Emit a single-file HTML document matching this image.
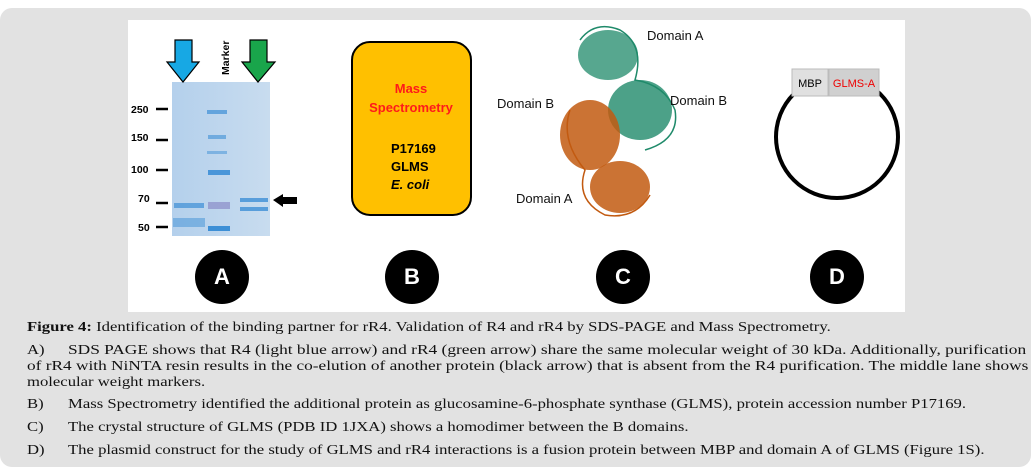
<!DOCTYPE html>
<html><head><meta charset="utf-8"><style>
body{margin:0;width:1035px;height:473px;background:#fff;position:relative;overflow:hidden;font-family:"Liberation Serif",serif}
.panel{position:absolute;left:0;top:8px;width:1031px;height:459px;background:#e2e2e2;border-radius:12px}
.white{position:absolute;left:128px;top:20px;width:777px;height:292px;background:#fff}
.cap{position:absolute;font-size:14px;color:#111;line-height:16px;white-space:nowrap;transform:scaleX(1.19);transform-origin:0 0}
.circ{position:absolute;width:54px;height:54px;border-radius:50%;background:#000;color:#fff;font:bold 22px "Liberation Sans",sans-serif;text-align:center;line-height:54px}
</style></head><body>
<div class="panel"></div>
<div class="white"></div>
<svg style="position:absolute;left:0;top:0" width="1035" height="320">
 <defs><linearGradient id="gel" x1="0" x2="1"><stop offset="0" stop-color="#b4d0ec"/><stop offset="1" stop-color="#c8dcef"/></linearGradient></defs>
 <rect x="172" y="82" width="98" height="154" fill="url(#gel)"/>
 <g fill="#3d8fd6">
  <rect x="207" y="110" width="20" height="4" opacity=".7"/>
  <rect x="208" y="135" width="18" height="4" opacity=".6"/>
  <rect x="207" y="151" width="20" height="3" opacity=".5"/>
  <rect x="208" y="170" width="22" height="5" opacity=".9"/>
  <rect x="208" y="202" width="22" height="7" fill="#8a8cc8" opacity=".7"/>
  <rect x="208" y="226" width="22" height="5"/>
  <rect x="174" y="203" width="30" height="5" opacity=".7"/>
  <rect x="173" y="218" width="32" height="9" opacity=".5"/>
  <rect x="240" y="198" width="28" height="4" opacity=".8"/>
  <rect x="240" y="207" width="28" height="4" opacity=".8"/>
 </g>
 <polygon points="175,40 192,40 192,62 199,62 183,82 167,62 175,62" fill="#17a8e4" stroke="#000" stroke-width="1.2"/>
 <polygon points="250,40 267,40 267,62 275,62 258,82 242,62 250,62" fill="#19a54b" stroke="#000" stroke-width="1.2"/>
 <polygon points="273,200 283,194 283,197 297,197 297,204 283,204 283,207" fill="#000"/>
 <text x="229" y="75" transform="rotate(-90 229 75)" font-family="Liberation Sans" font-weight="bold" font-size="10.5">Marker</text>
 <g font-family="Liberation Sans" font-weight="bold" font-size="10.5">
  <text x="131" y="113">250</text><text x="131" y="141">150</text><text x="131" y="173">100</text><text x="138" y="202">70</text><text x="138" y="231">50</text>
 </g>
 <g stroke="#000" stroke-width="2.5"><line x1="156" y1="109" x2="168" y2="109"/><line x1="156" y1="140" x2="168" y2="140"/><line x1="156" y1="170" x2="168" y2="170"/><line x1="156" y1="203" x2="168" y2="203"/><line x1="156" y1="227" x2="168" y2="227"/></g>
 <rect x="352" y="42" width="119" height="173" rx="18" fill="#ffc000" stroke="#000" stroke-width="2"/>
 <g font-family="Liberation Sans" font-weight="bold" font-size="13" text-anchor="middle">
  <text x="411" y="93" fill="#ff1a1a">Mass</text><text x="411" y="112" fill="#ff1a1a">Spectrometry</text>
 </g>
 <g font-family="Liberation Sans" font-weight="bold" font-size="13">
  <text x="391" y="153">P17169</text><text x="391" y="171">GLMS</text><text x="391" y="189" font-style="italic">E. coli</text>
 </g>
 <g fill="none" stroke-width="3">
  <ellipse cx="608" cy="55" rx="30" ry="25" fill="#1f8a6a" opacity=".75" stroke="none"/>
  <ellipse cx="640" cy="110" rx="32" ry="30" fill="#1f8a6a" opacity=".8" stroke="none"/>
  <ellipse cx="590" cy="135" rx="30" ry="35" fill="#c25a10" opacity=".85" stroke="none"/>
  <ellipse cx="620" cy="187" rx="30" ry="26" fill="#c25a10" opacity=".85" stroke="none"/>
  <path d="M580 40 q15 -20 40 -10 q25 15 15 50 q30 5 40 30 q5 30 -30 40" stroke="#1f8a6a" stroke-width="1.5"/>
  <path d="M570 110 q-10 30 15 60 q-10 30 20 45 q30 5 45 -20" stroke="#c25a10" stroke-width="1.5"/>
 </g>
 <g font-family="Liberation Sans" font-size="13" fill="#111">
  <text x="647" y="40">Domain A</text><text x="497" y="108">Domain B</text><text x="670" y="105">Domain B</text><text x="516" y="203">Domain A</text>
 </g>
 <circle cx="837" cy="137" r="61" fill="none" stroke="#000" stroke-width="4"/>
 <rect x="792" y="69" width="36" height="27" fill="#e0e0e0" stroke="#bbb"/>
 <rect x="829" y="69" width="50" height="27" fill="#d0d0d0" stroke="#bbb"/>
 <text x="810" y="87" font-family="Liberation Sans" font-size="11" text-anchor="middle">MBP</text>
 <text x="854" y="87" font-family="Liberation Sans" font-size="11" text-anchor="middle" fill="#e00">GLMS-A</text>
</svg>
<div class="circ" style="left:195px;top:250px">A</div>
<div class="circ" style="left:385px;top:250px">B</div>
<div class="circ" style="left:596px;top:250px">C</div>
<div class="circ" style="left:810px;top:250px">D</div>
<div class="cap" style="left:27px;top:320px"><b>Figure 4:</b> Identification of the binding partner for rR4. Validation of R4 and rR4 by SDS-PAGE and Mass Spectrometry.</div>
<div class="cap" style="left:27px;top:343px">A)</div>
<div class="cap" style="left:68px;top:343px;transform:scaleX(1.24)">SDS PAGE shows that R4 (light blue arrow) and rR4 (green arrow) share the same molecular weight of 30 kDa. Additionally, purification</div>
<div class="cap" style="left:27px;top:359px;transform:scaleX(1.235)">of rR4 with NiNTA resin results in the co-elution of another protein (black arrow) that is absent from the R4 purification. The middle lane shows</div>
<div class="cap" style="left:27px;top:375px">molecular weight markers.</div>
<div class="cap" style="left:27px;top:397px">B)</div>
<div class="cap" style="left:68px;top:397px">Mass Spectrometry identified the additional protein as glucosamine-6-phosphate synthase (GLMS), protein accession number P17169.</div>
<div class="cap" style="left:27px;top:420px">C)</div>
<div class="cap" style="left:68px;top:420px">The crystal structure of GLMS (PDB ID 1JXA) shows a homodimer between the B domains.</div>
<div class="cap" style="left:27px;top:443px">D)</div>
<div class="cap" style="left:68px;top:443px">The plasmid construct for the study of GLMS and rR4 interactions is a fusion protein between MBP and domain A of GLMS (Figure 1S).</div>
</body></html>
